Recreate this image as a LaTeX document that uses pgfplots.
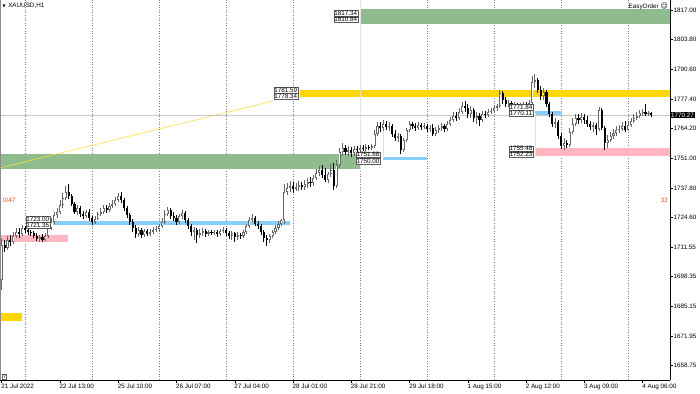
\documentclass[border=0pt]{standalone}
\usepackage{pgfplots}
\pgfplotsset{compat=1.18}
\usepackage{pgfplotstable}
\usepackage{fontspec}
\setmainfont{Liberation Sans}
\newfontfamily\dejavu{DejaVu Sans}
\definecolor{zgreen}{RGB}{143,188,143}
\definecolor{zgold}{RGB}{255,215,0}
\definecolor{zpink}{RGB}{255,182,193}
\definecolor{zblue}{RGB}{135,206,250}
\definecolor{ored}{RGB}{255,69,0}
\pgfplotstableread{
o h l c
1696.9 1715.5 1692.4 1712.4
1712.4 1714.7 1709.3 1711.1
1711.1 1716.4 1710.2 1714.7
1714.7 1716.9 1712.0 1713.8
1713.8 1718.2 1712.9 1716.4
1716.4 1720.0 1715.5 1718.2
1718.2 1720.0 1715.5 1717.3
1717.3 1721.3 1716.4 1720.0
1720.0 1720.9 1717.8 1719.1
1719.1 1720.0 1716.9 1718.2
1718.2 1719.1 1716.4 1717.8
1717.8 1718.7 1715.5 1716.4
1716.4 1717.8 1714.2 1715.1
1715.1 1716.9 1713.8 1716.0
1716.0 1717.3 1713.8 1714.7
1714.7 1717.8 1714.2 1716.4
1716.4 1720.9 1715.5 1720.0
1720.0 1724.4 1719.1 1722.7
1722.7 1727.1 1721.8 1725.8
1725.8 1728.9 1724.4 1727.1
1727.1 1732.5 1726.2 1730.2
1730.2 1735.6 1728.9 1733.3
1733.3 1738.7 1732.5 1736.0
1736.0 1739.6 1732.9 1734.2
1734.2 1735.1 1729.8 1730.7
1730.7 1731.6 1726.2 1727.1
1727.1 1730.2 1725.8 1728.9
1728.9 1729.8 1724.9 1726.2
1726.2 1727.6 1724.0 1725.3
1725.3 1728.0 1724.4 1727.1
1727.1 1728.5 1723.1 1724.4
1724.4 1725.3 1721.3 1722.7
1722.7 1725.3 1721.8 1724.0
1724.0 1727.1 1723.6 1726.2
1726.2 1728.9 1725.3 1727.1
1727.1 1730.2 1726.2 1728.9
1728.9 1730.2 1726.7 1728.0
1728.0 1731.1 1727.1 1729.8
1729.8 1732.5 1728.9 1730.7
1730.7 1733.8 1729.8 1732.5
1732.5 1735.6 1731.6 1734.2
1734.2 1736.0 1731.1 1732.5
1732.5 1733.3 1727.6 1728.9
1728.9 1729.8 1724.4 1725.8
1725.8 1726.7 1721.3 1722.7
1722.7 1724.0 1718.2 1720.0
1720.0 1721.3 1715.5 1717.3
1717.3 1720.4 1716.0 1719.1
1719.1 1720.0 1715.5 1716.9
1716.9 1719.5 1716.0 1718.7
1718.7 1719.5 1716.4 1717.3
1717.3 1719.5 1716.4 1718.2
1718.2 1720.4 1717.3 1719.1
1719.1 1720.9 1718.2 1719.5
1719.5 1721.8 1718.7 1720.9
1720.9 1724.4 1720.0 1722.7
1722.7 1728.0 1721.8 1726.2
1726.2 1729.3 1725.3 1728.0
1728.0 1728.9 1724.0 1725.3
1725.3 1727.1 1723.1 1724.4
1724.4 1725.8 1721.3 1722.7
1722.7 1726.2 1721.8 1725.3
1725.3 1728.0 1724.0 1726.7
1726.7 1727.6 1722.2 1723.6
1723.6 1724.4 1719.5 1720.9
1720.9 1721.8 1716.4 1718.2
1718.2 1720.4 1714.7 1719.1
1719.1 1720.0 1713.3 1716.9
1716.9 1719.5 1715.5 1717.8
1717.8 1720.0 1716.4 1718.7
1718.7 1719.5 1716.0 1717.3
1717.3 1719.1 1716.4 1718.2
1718.2 1719.1 1716.9 1717.8
1717.8 1719.1 1716.9 1718.2
1718.2 1719.1 1716.0 1717.3
1717.3 1719.5 1716.4 1718.7
1718.7 1720.4 1717.8 1719.1
1719.1 1720.0 1716.4 1717.8
1717.8 1718.7 1715.1 1716.4
1716.4 1718.7 1714.7 1717.8
1717.8 1718.2 1713.8 1716.0
1716.0 1718.2 1714.7 1716.9
1716.9 1717.8 1715.1 1716.4
1716.4 1719.1 1715.5 1718.2
1718.2 1721.8 1717.3 1720.9
1720.9 1724.9 1720.0 1723.6
1723.6 1726.2 1722.7 1724.4
1724.4 1725.3 1720.9 1721.8
1721.8 1723.1 1719.5 1720.9
1720.9 1721.8 1716.9 1718.2
1718.2 1719.1 1713.8 1715.5
1715.5 1716.9 1712.0 1714.7
1714.7 1717.3 1713.3 1716.4
1716.4 1719.1 1715.5 1718.2
1718.2 1721.3 1717.3 1720.0
1720.0 1723.1 1719.1 1721.8
1721.8 1724.0 1720.9 1723.6
1723.6 1739.6 1721.8 1736.0
1736.0 1740.0 1734.7 1737.8
1737.8 1740.9 1736.0 1738.7
1738.7 1740.5 1735.6 1737.4
1737.4 1740.0 1736.5 1738.2
1738.2 1740.9 1736.5 1739.1
1739.1 1740.5 1736.9 1738.2
1738.2 1741.4 1736.9 1739.6
1739.6 1742.2 1737.8 1740.5
1740.5 1742.7 1738.2 1740.0
1740.0 1743.6 1738.7 1742.2
1742.2 1746.2 1741.4 1744.5
1744.5 1747.6 1743.1 1745.8
1745.8 1748.0 1742.2 1743.6
1743.6 1746.7 1740.5 1741.4
1741.4 1744.9 1740.0 1744.0
1744.0 1748.5 1742.7 1745.8
1745.8 1748.9 1736.9 1738.7
1738.7 1750.3 1737.8 1748.0
1748.0 1755.6 1746.7 1753.8
1753.8 1757.8 1752.0 1755.6
1755.6 1756.9 1752.5 1753.8
1753.8 1756.5 1752.0 1754.7
1754.7 1756.0 1751.6 1753.4
1753.4 1756.5 1752.0 1755.2
1755.2 1756.5 1753.4 1754.7
1754.7 1756.9 1753.8 1755.6
1755.6 1756.9 1754.3 1755.2
1755.2 1757.4 1754.3 1756.0
1756.0 1756.9 1754.7 1755.6
1755.6 1757.4 1754.7 1756.5
1756.5 1763.6 1755.6 1761.8
1761.8 1767.2 1760.9 1765.4
1765.4 1767.2 1762.7 1764.5
1764.5 1768.1 1763.2 1766.3
1766.3 1767.6 1763.6 1764.9
1764.9 1767.2 1763.2 1765.4
1765.4 1766.3 1760.5 1761.8
1761.8 1763.6 1758.7 1760.0
1760.0 1762.3 1758.3 1760.9
1760.9 1761.8 1752.9 1754.7
1754.7 1760.0 1753.8 1759.2
1759.2 1764.5 1758.3 1763.6
1763.6 1767.6 1762.7 1766.3
1766.3 1767.2 1764.1 1765.4
1765.4 1766.7 1763.2 1764.5
1764.5 1767.2 1763.6 1765.8
1765.8 1766.7 1763.6 1764.9
1764.9 1766.7 1764.1 1765.4
1765.4 1766.3 1762.7 1764.1
1764.1 1765.8 1762.7 1764.5
1764.5 1766.3 1760.9 1761.8
1761.8 1764.9 1760.9 1763.6
1763.6 1765.8 1762.3 1764.5
1764.5 1766.7 1763.2 1765.4
1765.4 1766.3 1762.7 1764.1
1764.1 1767.6 1763.2 1766.3
1766.3 1769.4 1765.4 1768.1
1768.1 1771.6 1767.2 1769.8
1769.8 1771.6 1767.6 1768.9
1768.9 1773.4 1768.1 1771.6
1771.6 1776.1 1770.7 1774.3
1774.3 1776.5 1771.6 1773.4
1773.4 1775.2 1768.9 1770.7
1770.7 1774.3 1768.9 1772.5
1772.5 1773.4 1767.2 1768.9
1768.9 1771.6 1766.3 1769.8
1769.8 1771.2 1765.4 1768.1
1768.1 1772.1 1767.2 1770.7
1770.7 1772.1 1768.9 1770.3
1770.3 1773.0 1769.4 1771.6
1771.6 1773.4 1770.7 1772.1
1772.1 1774.7 1771.2 1773.4
1773.4 1775.2 1772.1 1774.3
1774.3 1781.4 1773.4 1780.1
1780.1 1781.0 1775.2 1777.0
1777.0 1778.3 1773.8 1775.2
1775.2 1777.0 1773.8 1775.6
1775.6 1776.5 1773.0 1774.3
1774.3 1776.1 1773.4 1774.7
1774.7 1775.6 1772.5 1773.8
1773.8 1775.6 1773.0 1774.3
1774.3 1776.1 1773.4 1774.7
1774.7 1776.1 1773.0 1774.3
1774.3 1777.0 1773.4 1775.6
1775.6 1787.6 1774.3 1785.0
1785.0 1788.5 1782.3 1785.9
1785.9 1786.7 1780.1 1781.4
1781.4 1783.2 1777.0 1778.7
1778.7 1782.3 1777.0 1780.5
1780.5 1781.4 1773.8 1775.2
1775.2 1776.1 1769.4 1770.7
1770.7 1771.6 1764.9 1766.3
1766.3 1768.9 1764.5 1767.2
1767.2 1768.1 1759.6 1760.9
1760.9 1762.3 1755.2 1756.5
1756.5 1760.0 1754.7 1757.8
1757.8 1759.2 1755.6 1756.9
1756.9 1764.5 1756.0 1762.7
1762.7 1768.9 1761.8 1766.3
1766.3 1770.7 1765.4 1768.9
1768.9 1770.7 1766.3 1768.1
1768.1 1771.2 1766.7 1769.4
1769.4 1770.7 1766.3 1768.1
1768.1 1769.8 1764.9 1766.3
1766.3 1767.6 1763.6 1764.9
1764.9 1767.2 1762.7 1765.8
1765.8 1766.7 1761.4 1764.1
1764.1 1773.8 1763.2 1772.5
1772.5 1773.4 1763.6 1764.5
1764.5 1765.4 1754.7 1757.8
1757.8 1761.4 1755.6 1759.2
1759.2 1762.7 1758.3 1760.9
1760.9 1764.1 1759.6 1762.3
1762.3 1765.4 1760.9 1763.6
1763.6 1765.8 1762.3 1764.1
1764.1 1767.2 1763.2 1765.4
1765.4 1767.6 1762.7 1763.6
1763.6 1767.6 1763.2 1765.8
1765.8 1768.9 1764.9 1767.6
1767.6 1770.7 1766.7 1768.9
1768.9 1771.6 1768.1 1769.8
1769.8 1772.5 1768.9 1771.2
1771.2 1773.0 1769.8 1771.6
1771.6 1775.2 1769.8 1770.7
1770.7 1772.1 1769.8 1771.2
1771.2 1771.6 1769.4 1770.3
}\candles
\begin{document}
\begin{tikzpicture}[font=\fontsize{6.3}{7.5}\selectfont,
  plabel/.style={draw=black!65, fill=white, inner sep=0.6pt, line width=0.4pt}]
\path[use as bounding box] (0pt,-13pt) rectangle (700pt,380pt);
\begin{axis}[
  at={(0pt,0pt)}, anchor=south west, scale only axis,
  width=670pt, height=380pt,
  xmin=-0.58, xmax=229.4, ymin=1652.35, ymax=1821.45,
  clip mode=individual,
  axis x line*=bottom, axis y line*=right,
  axis line style={black, line width=0.5pt},
  tick align=outside, major tick length=3pt,
  tick style={black, line width=0.5pt},
  xtick={0,20,40,60,80,100,120,140,160,180,200,220},
  xticklabels={21 Jul 2022,22 Jul 13:00,25 Jul 10:00,26 Jul 07:00,27 Jul 04:00,28 Jul 01:00,28 Jul 21:00,29 Jul 18:00,1 Aug 15:00,2 Aug 12:00,3 Aug 09:00,4 Aug 06:00},
  xticklabel style={anchor=north west, inner sep=0pt, xshift=-0.5pt, yshift=-1pt},
  ytick={1658.75,1671.95,1685.15,1698.35,1711.55,1724.60,1737.80,1751.00,1764.20,1777.40,1790.60,1803.80,1817.00},
  yticklabels={1658.75,1671.95,1685.15,1698.35,1711.55,1724.60,1737.80,1751.00,1764.20,1777.40,1790.60,1803.80,1817.00},
  yticklabel style={anchor=west, inner sep=0pt, xshift=0.3pt},
  extra x ticks={8,31,54,77,100,123,146,169,192,215},
  extra x tick labels={},
  extra x tick style={grid=major, major tick length=0pt},
  major grid style={black!50, line width=0.55pt, dash pattern=on 1pt off 1.6pt},
]
% zones
\addplot[fill=zgreen, draw=none, forget plot] coordinates {(123.2,1810.84) (240,1810.84) (240,1817.34) (123.2,1817.34)} -- cycle;
\addplot[fill=zgreen, draw=none, forget plot] coordinates {(-2,1746.3) (123.0,1746.3) (123.0,1752.9) (-2,1752.9)} -- cycle;
\addplot[fill=zgold, draw=none, forget plot] coordinates {(102.4,1778.34) (240,1778.34) (240,1781.59) (102.4,1781.59)} -- cycle;
\addplot[fill=zgold, draw=none, forget plot] coordinates {(-2,1678.6) (6.97,1678.6) (6.97,1682.1) (-2,1682.1)} -- cycle;
\addplot[fill=zpink, draw=none, forget plot] coordinates {(-2,1713.7) (22.8,1713.7) (22.8,1716.9) (-2,1716.9)} -- cycle;
\addplot[fill=zpink, draw=none, forget plot] coordinates {(183.1,1752.23) (240,1752.23) (240,1755.48) (183.1,1755.48)} -- cycle;
\addplot[fill=zblue, draw=none, forget plot] coordinates {(17.6,1721.35) (99,1721.35) (99,1723.00) (17.6,1723.00)} -- cycle;
\addplot[fill=zblue, draw=none, forget plot] coordinates {(130.9,1750.3) (146.0,1750.3) (146.0,1751.68) (130.9,1751.68)} -- cycle;
\addplot[fill=zblue, draw=none, forget plot] coordinates {(183.1,1770.11) (192.4,1770.11) (192.4,1771.9) (183.1,1771.9)} -- cycle;
% faint object lines
\addplot[green!20!black!12, line width=0.6pt, forget plot] coordinates {(123.2,1746.3) (123.2,1821.45)};
\addplot[zpink!60, line width=0.6pt, forget plot] coordinates {(183.1,1752.23) (183.1,1771.0)};
\addplot[zblue!50, line width=0.6pt, forget plot] coordinates {(130.9,1751.0) (130.9,1763.6)};
\addplot[zblue!50, line width=0.6pt, forget plot] coordinates {(18.3,1723.0) (23.4,1738.2)};
% trend line
\addplot[zgold!80, line width=0.6pt, forget plot] coordinates {(-0.58,1746.7) (93.1,1776.5)};
% bid line
\addplot[black!22, line width=0.6pt, forget plot] coordinates {(-1,1770.27) (240,1770.27)};
% candles: wicks
\addplot[draw=none, mark=none, forget plot,
  restrict expr to domain={\thisrow{c}-\thisrow{o}}{0:1000},
  error bars/.cd, y dir=plus, y explicit, error mark=none,
  error bar style={draw=black!60, line width=0.8pt}]
  table[x expr=\coordindex, y=l, y error expr=\thisrow{h}-\thisrow{l}] {\candles};
\addplot[draw=none, mark=none, forget plot,
  restrict expr to domain={\thisrow{c}-\thisrow{o}}{-1000:-0.01},
  error bars/.cd, y dir=plus, y explicit, error mark=none,
  error bar style={draw=black, line width=0.8pt}]
  table[x expr=\coordindex, y=l, y error expr=\thisrow{h}-\thisrow{l}] {\candles};
% bodies
\addplot[draw=none, mark=none, forget plot,
  restrict expr to domain={\thisrow{c}-\thisrow{o}}{0:1000},
  error bars/.cd, y dir=plus, y explicit, error mark=none,
  error bar style={draw=black!60, line width=2.1pt}]
  table[x expr=\coordindex, y=o, y error expr={max(\thisrow{c}-\thisrow{o},0.35)}] {\candles};
\addplot[draw=none, mark=none, forget plot,
  restrict expr to domain={\thisrow{c}-\thisrow{o}}{1.0:1000},
  error bars/.cd, y dir=plus, y explicit, error mark=none,
  error bar style={draw=white, line width=0.6pt}]
  table[x expr=\coordindex, y expr=\thisrow{o}+0.35, y error expr={\thisrow{c}-\thisrow{o}-0.7}] {\candles};
\addplot[draw=none, mark=none, forget plot,
  restrict expr to domain={\thisrow{c}-\thisrow{o}}{-1000:-0.01},
  error bars/.cd, y dir=plus, y explicit, error mark=none,
  error bar style={draw=black, line width=2.1pt}]
  table[x expr=\coordindex, y=c, y error expr=\thisrow{o}-\thisrow{c}] {\candles};
% price labels
\node[plabel, anchor=south east] at (axis cs:16.6,1722.7) {1723.00};
\node[plabel, anchor=north east] at (axis cs:16.6,1722.7) {1721.35};
\node[plabel, anchor=south east] at (axis cs:101.7,1780.1) {1781.59};
\node[plabel, anchor=north east] at (axis cs:101.7,1780.1) {1778.34};
\node[plabel, anchor=south east] at (axis cs:122.3,1814.1) {1817.34};
\node[plabel, anchor=north east] at (axis cs:122.3,1814.1) {1810.84};
\node[plabel, anchor=south east] at (axis cs:129.9,1751.2) {1751.68};
\node[plabel, anchor=north east] at (axis cs:129.9,1751.2) {1750.00};
\node[plabel, anchor=south east] at (axis cs:182.4,1772.5) {1771.84};
\node[plabel, anchor=north east] at (axis cs:182.4,1772.5) {1770.11};
\node[plabel, anchor=south east] at (axis cs:182.4,1754.0) {1755.48};
\node[plabel, anchor=north east] at (axis cs:182.4,1754.0) {1752.23};
% texts
\node[anchor=north west, inner sep=0pt] at ([xshift=2.5pt,yshift=-3pt]rel axis cs:0,1) {{\dejavu\fontsize{4}{4}\selectfont ▼}\hspace{2.5pt}XAUUSD,H1};
\node[anchor=north east, inner sep=0pt] at ([xshift=-2pt,yshift=-2.5pt]rel axis cs:1,1) {EasyOrder {\dejavu\fontsize{7}{7}\selectfont ☺}};
\node[anchor=west, text=ored, inner sep=0pt] at ([xshift=3pt]axis cs:-0.58,1732.45) {0/47};
\node[anchor=east, text=ored, inner sep=0pt] at ([xshift=-2pt]axis cs:229.4,1732.45) {32};
\node[draw=black!60, fill=white, inner sep=0.6pt, anchor=south west, font=\fontsize{5.5}{6}\selectfont] at ([xshift=2pt,yshift=1pt]rel axis cs:0,0) {?};
\node[fill=black, text=white, anchor=west, inner sep=0.9pt] at (axis cs:229.4,1770.27) {1770.27};
\draw[black!45, line width=0.5pt] (rel axis cs:0,0) -- (rel axis cs:0,1);
\end{axis}
\end{tikzpicture}
\end{document}
